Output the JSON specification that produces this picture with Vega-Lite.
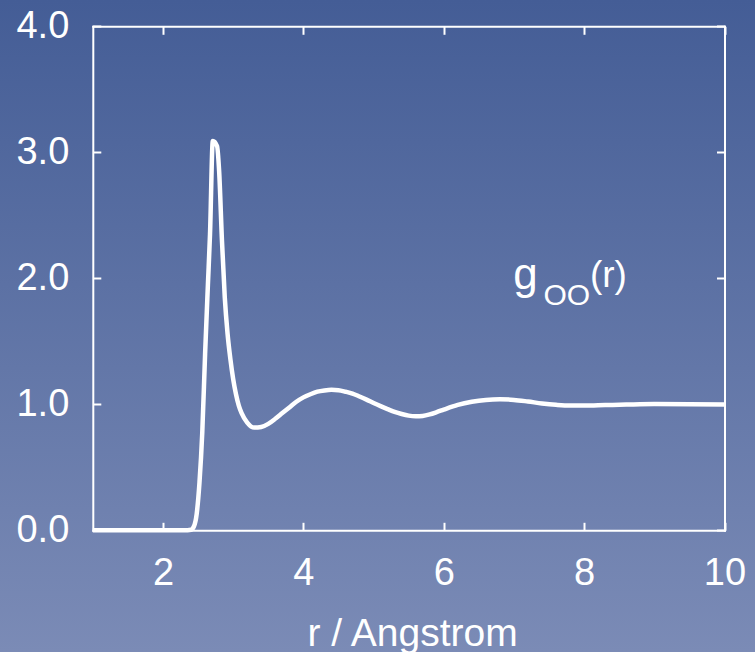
{
  "$schema": "https://vega.github.io/schema/vega-lite/v6.json",
  "width": 755,
  "height": 652,
  "autosize": {"type": "none"},
  "padding": 0,
  "background": "#5f72a5",
  "view": {
    "stroke": null,
    "fill": {
      "gradient": "linear",
      "x1": 0, "y1": 0, "x2": 0, "y2": 1,
      "stops": [
        {"offset": 0, "color": "#445d96"},
        {"offset": 1, "color": "#7b8bb6"}
      ]
    }
  },
  "config": {
    "axis": {
      "grid": false,
      "domainColor": "white",
      "domainWidth": 2,
      "domainCap": "square",
      "tickColor": "white",
      "tickWidth": 2,
      "tickSize": -8,
      "labelColor": "white",
      "labelFont": "Liberation Sans",
      "labelFontSize": 38,
      "labelFlush": false,
      "labelOverlap": false,
      "titleColor": "white",
      "titleFont": "Liberation Sans",
      "titleFontSize": 39,
      "titleFontWeight": "normal"
    }
  },
  "datasets": {
    "goo": [
      {"r": 1.0, "g": 0},
      {"r": 1.5, "g": 0},
      {"r": 2.0, "g": 0},
      {"r": 2.3, "g": 0},
      {"r": 2.4, "g": 0.005},
      {"r": 2.44, "g": 0.03},
      {"r": 2.48, "g": 0.13},
      {"r": 2.52, "g": 0.38},
      {"r": 2.56, "g": 0.78},
      {"r": 2.6, "g": 1.4},
      {"r": 2.64, "g": 1.95},
      {"r": 2.67, "g": 2.35},
      {"r": 2.71, "g": 3.09},
      {"r": 2.77, "g": 3.05},
      {"r": 2.8, "g": 2.85},
      {"r": 2.84, "g": 2.3},
      {"r": 2.88, "g": 1.85},
      {"r": 2.92, "g": 1.56},
      {"r": 2.96, "g": 1.36},
      {"r": 3.0, "g": 1.2},
      {"r": 3.04, "g": 1.08},
      {"r": 3.08, "g": 0.99},
      {"r": 3.12, "g": 0.93},
      {"r": 3.2, "g": 0.855},
      {"r": 3.3, "g": 0.815},
      {"r": 3.4, "g": 0.82},
      {"r": 3.5, "g": 0.845},
      {"r": 3.6, "g": 0.885},
      {"r": 3.7, "g": 0.93},
      {"r": 3.8, "g": 0.975},
      {"r": 3.9, "g": 1.02},
      {"r": 4.0, "g": 1.055},
      {"r": 4.1, "g": 1.08},
      {"r": 4.2, "g": 1.1},
      {"r": 4.3, "g": 1.11},
      {"r": 4.4, "g": 1.115},
      {"r": 4.5, "g": 1.112},
      {"r": 4.6, "g": 1.1},
      {"r": 4.7, "g": 1.085},
      {"r": 4.8, "g": 1.062},
      {"r": 4.9, "g": 1.037},
      {"r": 5.0, "g": 1.01},
      {"r": 5.1, "g": 0.985},
      {"r": 5.2, "g": 0.962},
      {"r": 5.3, "g": 0.94},
      {"r": 5.4, "g": 0.923},
      {"r": 5.5, "g": 0.91},
      {"r": 5.6, "g": 0.905},
      {"r": 5.7, "g": 0.908},
      {"r": 5.8, "g": 0.92},
      {"r": 5.9, "g": 0.938},
      {"r": 6.0, "g": 0.958},
      {"r": 6.2, "g": 0.995},
      {"r": 6.4, "g": 1.02},
      {"r": 6.6, "g": 1.035},
      {"r": 6.8, "g": 1.04},
      {"r": 7.0, "g": 1.035},
      {"r": 7.2, "g": 1.022},
      {"r": 7.4, "g": 1.007},
      {"r": 7.6, "g": 0.996},
      {"r": 7.8, "g": 0.99},
      {"r": 8.0, "g": 0.99},
      {"r": 8.3, "g": 0.994},
      {"r": 8.6, "g": 0.998},
      {"r": 9.0, "g": 1.002},
      {"r": 9.5, "g": 1.001},
      {"r": 10.0, "g": 0.998}
    ]
  },
  "resolve": {"axis": {"x": "independent", "y": "independent"}},
  "layer": [
    {
      "data": {"name": "goo"},
      "mark": {"type": "line", "color": "white", "strokeWidth": 4.5, "interpolate": "monotone"},
      "encoding": {
        "x": {
          "field": "r",
          "type": "quantitative",
          "scale": {"domain": [1, 10], "range": [92.8, 724.5], "nice": false, "zero": false},
          "axis": {
            "orient": "bottom",
            "offset": -121.7,
            "values": [2, 4, 6, 8, 10],
            "labelPadding": 62,
            "labelBaseline": "alphabetic",
            "labelDx": 4,
            "title": "r / Angstrom",
            "titleBaseline": "alphabetic",
            "titleY": 114.7,
            "titleX": 412
          }
        },
        "y": {
          "field": "g",
          "type": "quantitative",
          "scale": {"domain": [0, 4], "range": [530.3, 26.3], "nice": false, "zero": false},
          "axis": {
            "orient": "left",
            "offset": -92.8,
            "values": [0, 1, 2, 3, 4],
            "format": ".1f",
            "labelPadding": 32,
            "title": null
          }
        }
      }
    },
    {
      "data": {"values": [{"part": "g"}]},
      "mark": {"type": "text", "text": "g", "color": "white", "font": "Liberation Sans", "fontSize": 44, "align": "left", "baseline": "alphabetic"},
      "encoding": {
        "x": {
          "datum": 6.99,
          "type": "quantitative",
          "axis": {"orient": "top", "offset": -26.3, "values": [2, 4, 6, 8, 10], "labels": false, "title": null}
        },
        "y": {
          "datum": 1.917,
          "type": "quantitative",
          "axis": {"orient": "right", "offset": -30.5, "values": [0, 1, 2, 3, 4], "labels": false, "title": null}
        }
      }
    },
    {
      "data": {"values": [{"part": "OO"}]},
      "mark": {"type": "text", "text": "OO", "color": "white", "font": "Liberation Sans", "fontSize": 30, "align": "left", "baseline": "alphabetic"},
      "encoding": {
        "x": {"datum": 7.42, "type": "quantitative", "axis": null},
        "y": {"datum": 1.788, "type": "quantitative", "axis": null}
      }
    },
    {
      "data": {"values": [{"part": "(r)"}]},
      "mark": {"type": "text", "text": "(r)", "color": "white", "font": "Liberation Sans", "fontSize": 37, "align": "left", "baseline": "alphabetic"},
      "encoding": {
        "x": {"datum": 8.083, "type": "quantitative", "axis": null},
        "y": {"datum": 1.93, "type": "quantitative", "axis": null}
      }
    }
  ]
}
